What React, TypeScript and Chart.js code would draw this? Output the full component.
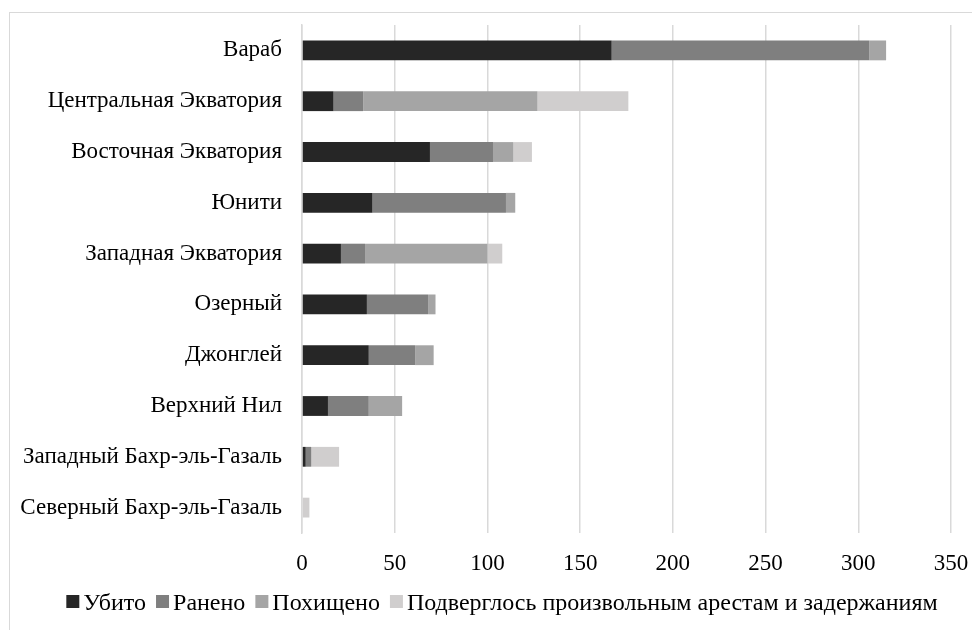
import React, { useEffect, useRef } from "react";
import { Chart, registerables } from "chart.js";

Chart.register(...registerables);

const categories = [
  "Вараб",
  "Центральная Экватория",
  "Восточная Экватория",
  "Юнити",
  "Западная Экватория",
  "Озерный",
  "Джонглей",
  "Верхний Нил",
  "Западный Бахр-эль-Газаль",
  "Северный Бахр-эль-Газаль",
];

const killed = [167, 17, 69, 38, 21, 35, 36, 14, 2, 0];
const wounded = [139, 16, 34, 72, 13, 33, 25, 22, 3, 0];
const abducted = [9, 94, 11, 5, 66, 4, 10, 18, 0, 0];
const arrested = [0, 49, 10, 0, 8, 0, 0, 0, 15, 4];

const seriesNames = ["Убито", "Ранено", "Похищено", "Подверглось произвольным арестам и задержаниям"];
const seriesColors = ["#262626", "#7f7f7f", "#a5a5a5", "#d0cece"];
const xTicks = [0, 50, 100, 150, 200, 250, 300, 350];

const FONT = "'Liberation Serif', 'Times New Roman', serif";

const bottomLegend = {
  id: "bottomLegend",
  afterDraw(chart: any) {
    const ctx = chart.ctx as CanvasRenderingContext2D;
    const items = chart.data.datasets.map((d: any) => ({ text: d.label, color: d.backgroundColor }));
    ctx.save();
    ctx.font = `24px ${FONT}`;
    const box = 13;
    const gapBoxText = 4;
    const gapItems = 10;
    const widths = items.map((it: any) => ctx.measureText(it.text).width);
    let total = 0;
    widths.forEach((w: number, i: number) => {
      total += box + gapBoxText + w + (i < widths.length - 1 ? gapItems : 0);
    });
    let x = 502 - total / 2;
    const baseline = 610;
    ctx.textAlign = "left";
    ctx.textBaseline = "alphabetic";
    items.forEach((it: any, i: number) => {
      ctx.fillStyle = it.color;
      ctx.fillRect(x, 595, box, box);
      x += box + gapBoxText;
      ctx.fillStyle = "#000";
      ctx.fillText(it.text, x, baseline);
      x += widths[i] + gapItems;
    });
    ctx.restore();
  },
};

export default function App() {
  const ref = useRef<HTMLCanvasElement | null>(null);

  useEffect(() => {
    if (!ref.current) return;
    const values = [killed, wounded, abducted, arrested];
    const chart = new Chart(ref.current, {
      type: "bar",
      data: {
        labels: categories,
        datasets: values.map((v, i) => ({
          label: seriesNames[i],
          data: v,
          backgroundColor: seriesColors[i],
          borderWidth: 0,
          barPercentage: 0.39,
          categoryPercentage: 1,
        })),
      },
      plugins: [bottomLegend],
      options: {
        indexAxis: "y",
        animation: false,
        responsive: false,
        maintainAspectRatio: false,
        layout: { padding: { left: 10, right: 21, top: 25, bottom: 37 } },
        plugins: {
          legend: { display: false },
          tooltip: { enabled: false },
        },
        scales: {
          x: {
            stacked: true,
            min: 0,
            max: 350,
            afterBuildTicks: (scale: any) => {
              scale.ticks = xTicks.map((v) => ({ value: v }));
            },
            afterFit: (scale: any) => {
              scale.height = 60;
              scale.paddingLeft = 0;
              scale.paddingRight = 0;
            },
            grid: { color: "#d9d9d9", lineWidth: 1.5, drawTicks: false },
            border: { display: false },
            ticks: {
              color: "#000",
              padding: 17,
              font: { family: FONT, size: 23 },
            },
          },
          y: {
            stacked: true,
            afterFit: (scale: any) => {
              scale.width = 292;
              scale.paddingTop = 0;
              scale.paddingBottom = 0;
            },
            grid: { display: false, drawTicks: false },
            border: { display: true, color: "#d9d9d9", width: 1.5 },
            ticks: {
              color: "#000",
              padding: 20,
              font: { family: FONT, size: 23 },
            },
          },
        },
      },
    });
    return () => chart.destroy();
  }, []);

  return (
    <div style={{ position: "fixed", left: 0, top: 0, width: 972, height: 630, background: "#fff", overflow: "hidden" }}>
      <div
        style={{
          position: "absolute",
          left: 9,
          top: 12,
          width: 1000,
          height: 700,
          border: "1.5px solid #d9d9d9",
          boxSizing: "border-box",
        }}
      />
      <canvas ref={ref} width={972} height={630} style={{ position: "absolute", left: 0, top: 0, width: 972, height: 630 }} />
    </div>
  );
}
